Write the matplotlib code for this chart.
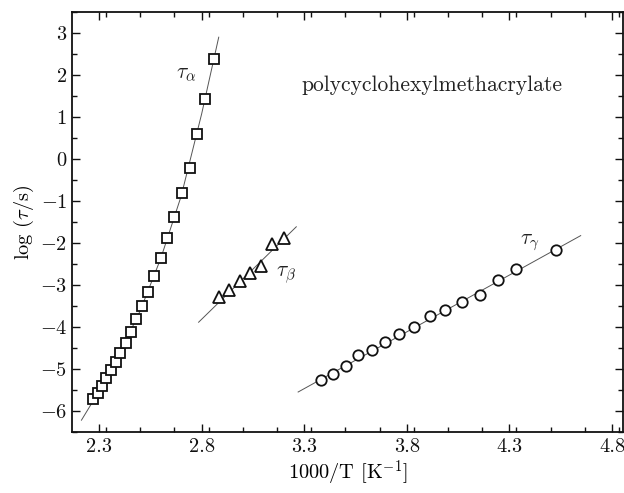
import matplotlib
matplotlib.use("Agg")
import matplotlib.pyplot as plt
from matplotlib.ticker import MultipleLocator, FixedLocator

plt.rcParams['font.family'] = 'serif'
plt.rcParams['font.serif'] = ['cmr10']
plt.rcParams['mathtext.fontset'] = 'cm'
plt.rcParams['axes.formatter.use_mathtext'] = True

# tau_alpha (squares)
alpha_x = [2.271, 2.295, 2.315, 2.334, 2.357, 2.380, 2.402, 2.429, 2.455, 2.482,
           2.510, 2.539, 2.570, 2.600, 2.631, 2.667, 2.705, 2.741, 2.775, 2.817, 2.860]
alpha_y = [-5.71, -5.56, -5.40, -5.21, -5.02, -4.83, -4.61, -4.37, -4.11, -3.81,
           -3.50, -3.15, -2.77, -2.35, -1.88, -1.38, -0.80, -0.20, 0.59, 1.42, 2.38]
alpha_fit_x = [2.214, 2.30, 2.40, 2.50, 2.60, 2.70, 2.80, 2.883]
alpha_fit_y = [-6.21, -5.52, -4.63, -3.61, -2.37, -0.88, 1.08, 2.90]

# tau_beta (triangles)
beta_x = [2.886, 2.934, 2.986, 3.034, 3.088, 3.142, 3.199]
beta_y = [-3.29, -3.11, -2.90, -2.70, -2.54, -2.01, -1.88]
beta_fit_x = [2.785, 3.261]
beta_fit_y = [-3.88, -1.61]

# tau_gamma (circles)
gamma_x = [3.382, 3.440, 3.502, 3.564, 3.629, 3.694, 3.762, 3.837, 3.915, 3.988,
           4.071, 4.155, 4.243, 4.334, 4.529]
gamma_y = [-5.26, -5.12, -4.91, -4.67, -4.54, -4.35, -4.17, -3.99, -3.74, -3.60,
           -3.41, -3.24, -2.88, -2.61, -2.16]
gamma_fit_x = [3.270, 4.647]
gamma_fit_y = [-5.54, -1.82]

xticks = [2.3, 2.8, 3.3, 3.8, 4.3, 4.8]
yticks = [-6, -5, -4, -3, -2, -1, 0, 1, 2, 3]

fig = plt.figure(figsize=(6.24, 4.93), dpi=100)
ax = fig.add_axes([0.1154, 0.123, 0.8826, 0.8527])

lc = '#555555'
ax.plot(alpha_fit_x, alpha_fit_y, '-', color=lc, lw=0.7, zorder=1)
ax.plot(beta_fit_x, beta_fit_y, '-', color=lc, lw=0.7, zorder=1)
ax.plot(gamma_fit_x, gamma_fit_y, '-', color=lc, lw=0.7, zorder=1)

ax.plot(alpha_x, alpha_y, 's', ms=7.5, mfc='white', mec='#111111', mew=1.3, zorder=2)
ax.plot(beta_x, beta_y, '^', ms=9, mfc='white', mec='#111111', mew=1.3, zorder=2)
ax.plot(gamma_x, gamma_y, 'o', ms=7.5, mfc='white', mec='#111111', mew=1.3, zorder=2)

ax.text(2.726, 2.01, r'$\tau_\alpha$', fontsize=15.5, ha='center', va='center', color='#222222')
ax.text(3.213, -2.76, r'$\tau_\beta$', fontsize=15.5, ha='center', va='center', color='#222222')
ax.text(4.399, -2.00, r'$\tau_\gamma$', fontsize=15.5, ha='center', va='center', color='#222222')
ax.text(3.924, 1.75, 'polycyclohexylmethacrylate', fontsize=15.5, ha='center', va='center',
        color='#222222')

ax.set_xlim(2.168, 4.852)
ax.set_ylim(-6.5, 3.5)
ax.xaxis.set_major_locator(FixedLocator(xticks))
ax.set_xticklabels(['%.1f' % v for v in xticks])
ax.xaxis.set_minor_locator(MultipleLocator(0.5 / 3))
ax.yaxis.set_major_locator(FixedLocator(yticks))
ax.yaxis.set_minor_locator(MultipleLocator(0.5))

ax.tick_params(which='both', direction='in', top=True, right=True, width=1.0,
               labelsize=14.7, colors='#111111')
ax.tick_params(which='major', length=6)
ax.tick_params(which='minor', length=3.3)
ax.tick_params(axis='x', pad=4)
for s in ax.spines.values():
    s.set_linewidth(1.3)
    s.set_color('#111111')

ax.set_xlabel(r'1000/T [K$^{-1}$]', fontsize=14.7, labelpad=2)
ax.set_ylabel(r'log ($\tau$/s)', fontsize=14.7, labelpad=3)

fig.savefig('out.png', dpi=100)
